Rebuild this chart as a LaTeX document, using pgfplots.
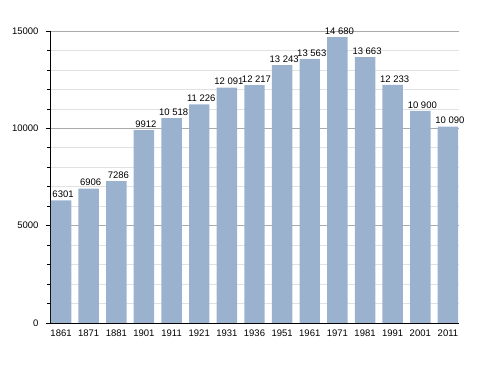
\documentclass[border=0pt]{standalone}
\usepackage{fontspec}
\setmainfont{Liberation Sans}
\usepackage{pgfplots}
\pgfplotsset{compat=1.18}
\definecolor{barblue}{RGB}{155,178,206}
\begin{document}
\begin{tikzpicture}
\begin{axis}[
  name=ax,
  scale only axis,
  width=409pt, height=292pt,
  xmin=-0.4, xmax=14.4,
  ymin=0, ymax=15000,
  axis x line*=bottom,
  axis y line*=left,
  axis line style={black, line width=0.8pt},
  xtick={0,...,14},
  xticklabels={1861,1871,1881,1901,1911,1921,1931,1936,1951,1961,1971,1981,1991,2001,2011},
  x tick style={draw=none},
  ytick={0,5000,10000,15000},
  minor ytick={1000,2000,3000,4000,6000,7000,8000,9000,11000,12000,13000,14000},
  scaled y ticks=false,
  tick align=outside,
  major tick length=4pt,
  minor tick length=2.5pt,
  y tick style={black, line width=0.6pt},
  ymajorgrids, yminorgrids,
  major grid style={draw={rgb,255:red,170;green,170;blue,170}, line width=0.6pt},
  minor grid style={draw={rgb,255:red,225;green,225;blue,225}, line width=0.6pt},
  /pgf/number format/assume math mode=true,
  /pgf/number format/1000 sep={},
  tick label style={font=\fontsize{9.5}{11}\selectfont},
  yticklabel style={xshift=-4pt},
  xticklabel style={yshift=1pt},
  clip=false,
]
\addplot[ybar, bar width=0.74, fill=barblue, draw=none,
  point meta=explicit symbolic,
  nodes near coords,
  every node near coord/.append style={font=\fontsize{9.5}{11}\selectfont, anchor=south, yshift=-1pt, xshift=2pt}]
coordinates {
(0,6301) [6301]
(1,6906) [6906]
(2,7286) [7286]
(3,9912) [9912]
(4,10518) [10 518]
(5,11226) [11 226]
(6,12091) [12 091]
(7,12217) [12 217]
(8,13243) [13 243]
(9,13563) [13 563]
(10,14680) [14 680]
(11,13663) [13 663]
(12,12233) [12 233]
(13,10900) [10 900]
(14,10090) [10 090]
};
\end{axis}
\path (ax.south west) ++(-50pt,-50pt);
\path (ax.north east) ++(29pt,31pt);
\end{tikzpicture}
\end{document}
